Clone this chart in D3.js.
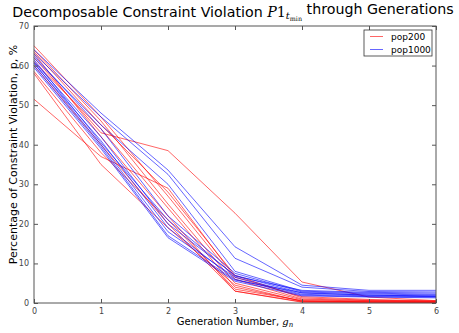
<!DOCTYPE html>
<html>
<head>
<meta charset="utf-8">
<script src="https://cdn.jsdelivr.net/npm/d3@7"></script>
<style>
  html, body { margin: 0; padding: 0; background: #fff; }
  svg { display: block; }
  text { font-family: "DejaVu Sans", sans-serif; }
</style>
</head>
<body>
<svg id="chart" width="459" height="333"></svg>
<script>
// Generation indices on the x axis
const generations = [0, 1, 2, 3, 4, 5, 6];

// Constraint violation (%) per run, population 200
const pop200Runs = [
  [65.0, 47.0, 27.0, 6.0, 1.0, 0.6, 0.4],
  [64.0, 46.0, 25.0, 5.0, 0.8, 0.5, 0.3],
  [63.5, 45.0, 28.0, 7.0, 1.3, 0.7, 0.5],
  [62.0, 43.0, 38.5, 22.7, 5.3, 1.5, 0.6],
  [61.0, 44.0, 24.0, 4.0, 0.5, 0.3, 0.2],
  [60.0, 40.0, 20.0, 3.0, 0.3, 0.2, 0.1],
  [58.5, 38.0, 21.0, 3.5, 0.6, 0.3, 0.2],
  [58.0, 35.0, 19.0, 4.5, 0.4, 0.3, 0.2],
  [51.5, 37.0, 29.0, 6.5, 1.6, 0.9, 0.5],
  [63.0, 42.0, 22.0, 3.0, 0.2, 0.1, 0.1]
];

// Constraint violation (%) per run, population 1000
const pop1000Runs = [
  [64.0, 48.0, 33.6, 14.2, 4.5, 3.2, 3.2],
  [63.0, 47.0, 32.5, 11.3, 4.0, 2.9, 2.8],
  [62.0, 45.0, 30.0, 8.0, 3.0, 2.5, 2.2],
  [61.0, 42.0, 20.0, 7.0, 2.5, 2.0, 1.8],
  [60.5, 41.0, 19.0, 6.0, 2.0, 1.6, 1.5],
  [60.7, 40.0, 18.0, 6.5, 2.2, 1.8, 1.6],
  [59.5, 39.0, 16.5, 5.5, 1.8, 1.5, 1.3],
  [62.5, 44.0, 22.0, 7.5, 2.8, 2.3, 2.0],
  [61.5, 40.5, 21.0, 6.8, 3.2, 2.7, 2.5],
  [60.0, 39.5, 17.0, 5.8, 2.6, 2.0, 1.7]
];

const xTicks = [0, 1, 2, 3, 4, 5, 6];
const yTicks = [0, 10, 20, 30, 40, 50, 60, 70];

const seriesNames = ["pop200", "pop1000"];
const seriesColors = ["#ff0000", "#0000ff"];

const svg = d3.select("#chart");
const margin = { left: 34, right: 23, top: 26, bottom: 30 };
const W = 459, H = 333;
const innerW = W - margin.left - margin.right;
const innerH = H - margin.top - margin.bottom;

const x = d3.scaleLinear().domain([0, 6]).range([margin.left, margin.left + innerW]);
const y = d3.scaleLinear().domain([0, 70]).range([margin.top + innerH, margin.top]);

const line = d3.line()
  .x((d, i) => x(generations[i]))
  .y(d => y(d));

const plot = svg.append("g");

[pop200Runs, pop1000Runs].forEach((runs, s) => {
  plot.selectAll(null)
    .data(runs)
    .enter()
    .append("path")
    .attr("d", line)
    .attr("fill", "none")
    .attr("stroke", seriesColors[s])
    .attr("stroke-opacity", 0.6)
    .attr("stroke-width", 1);
});

// Axes with inward ticks on all four sides
const axisColor = "#555";
const tickLen = 4;

function styleAxis(g) {
  g.select(".domain").remove();
  g.selectAll(".tick line").attr("stroke", axisColor);
  g.selectAll(".tick text")
    .attr("fill", "#444")
    .style("font-size", "8px")
    .style("font-family", "DejaVu Sans, sans-serif");
}

svg.append("g")
  .attr("transform", `translate(0,${y(0)})`)
  .call(d3.axisBottom(x).tickValues(xTicks).tickSizeInner(-tickLen).tickSizeOuter(0).tickPadding(5).tickFormat(d3.format("d")))
  .call(styleAxis);

svg.append("g")
  .attr("transform", `translate(0,${y(70)})`)
  .call(d3.axisTop(x).tickValues(xTicks).tickSizeInner(-tickLen).tickSizeOuter(0).tickFormat(""))
  .call(styleAxis);

svg.append("g")
  .attr("transform", `translate(${x(0)},0)`)
  .call(d3.axisLeft(y).tickValues(yTicks).tickSizeInner(-tickLen).tickSizeOuter(0).tickPadding(5).tickFormat(d3.format("d")))
  .call(styleAxis);

svg.append("g")
  .attr("transform", `translate(${x(6)},0)`)
  .call(d3.axisRight(y).tickValues(yTicks).tickSizeInner(-tickLen).tickSizeOuter(0).tickFormat(""))
  .call(styleAxis);

svg.append("rect")
  .attr("x", x(0)).attr("y", y(70))
  .attr("width", x(6) - x(0)).attr("height", y(0) - y(70))
  .attr("fill", "none")
  .attr("stroke", axisColor)
  .attr("stroke-width", 1);

// Title with mathematical subscript, sized to span the available width
const title = svg.append("text")
  .attr("x", 233).attr("y", 17)
  .attr("text-anchor", "middle")
  .style("font-size", "16px")
  .attr("fill", "#000");
title.append("tspan").text("Decomposable Constraint Violation ");
title.append("tspan").style("font-family", "DejaVu Serif, serif").style("font-style", "italic").text("P");
title.append("tspan").style("font-family", "DejaVu Serif, serif").text("1");
title.append("tspan").style("font-family", "DejaVu Serif, serif").style("font-style", "italic").style("font-size", "0.7em").attr("dy", "0.25em").text("t");
title.append("tspan").style("font-family", "DejaVu Serif, serif").style("font-size", "0.45em").attr("dy", "0.2em").text("min");
title.append("tspan").attr("dy", "-0.45em").text(" through Generations");
{
  const w = title.node().getBBox().width;
  const fs = 16 * 442 / w;
  title.style("font-size", fs + "px");
}

// Axis labels
const xl = svg.append("text")
  .attr("x", 235).attr("y", 325)
  .attr("text-anchor", "middle")
  .style("font-size", "10px");
xl.append("tspan").text("Generation Number, ");
xl.append("tspan").style("font-family", "DejaVu Serif, serif").style("font-style", "italic").text("g");
xl.append("tspan").style("font-family", "DejaVu Serif, serif").style("font-style", "italic").style("font-size", "7px").attr("dy", 2).text("n");

svg.append("text")
  .attr("transform", `translate(17,${(y(0) + y(70)) / 2 - 10}) rotate(-90)`)
  .attr("text-anchor", "middle")
  .style("font-size", "11px")
  .text("Percentage of Constraint Violation, p, %");

// Legend
const legend = svg.append("g");
legend.append("rect")
  .attr("x", 364).attr("y", 30)
  .attr("width", 68).attr("height", 26)
  .attr("fill", "#fff")
  .attr("stroke", "#333")
  .attr("stroke-width", 0.8);
seriesNames.forEach((name, i) => {
  const ly = 36.5 + i * 13;
  legend.append("line")
    .attr("x1", 370).attr("x2", 383)
    .attr("y1", ly).attr("y2", ly)
    .attr("stroke", seriesColors[i])
    .attr("stroke-opacity", 0.6)
    .attr("stroke-width", 1);
  legend.append("text")
    .attr("x", 391).attr("y", ly + 3)
    .style("font-size", "9px")
    .text(name);
});
</script>
</body>
</html>
